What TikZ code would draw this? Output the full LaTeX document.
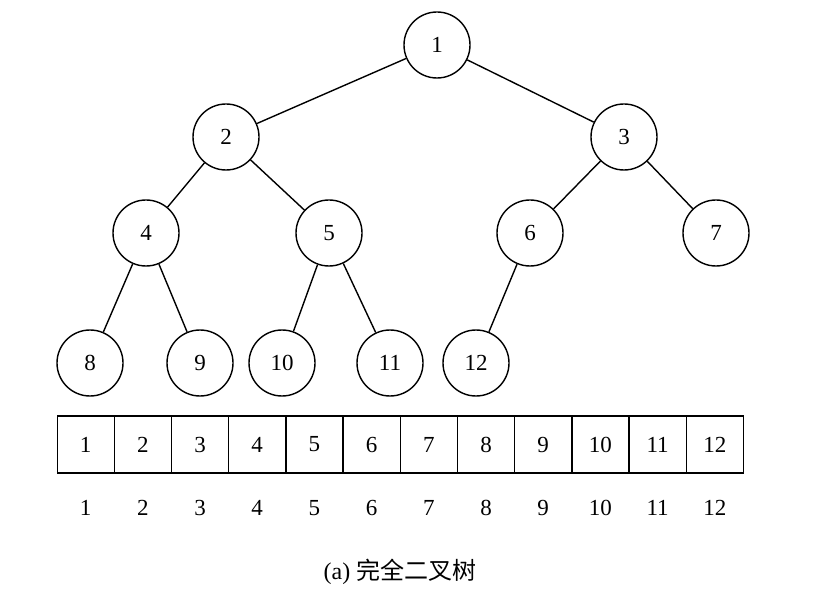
\documentclass[tikz,border=0pt]{standalone}
\usepackage{fontspec}
\setmainfont{Liberation Serif}
\newfontfamily\cjk{Noto Sans CJK SC}
\begin{document}
\begin{tikzpicture}[x=1pt,y=-1pt,
  tn/.style={circle,draw,line width=1.4pt,minimum size=66pt,inner sep=0pt,font=\fontsize{23}{24}\selectfont},
  cell/.style={draw,line width=1.2pt,minimum width=57pt,minimum height=57pt,inner sep=0pt,font=\fontsize{23}{24}\selectfont},
  idx/.style={font=\fontsize{23}{24}\selectfont},
  edge/.style={line width=1.4pt}]
\useasboundingbox (0,0) rectangle (827,601);
\node[tn] (n1) at (437,45) {1};
\node[tn] (n2) at (226,137) {2};
\node[tn] (n3) at (624,137) {3};
\node[tn] (n4) at (146,233) {4};
\node[tn] (n5) at (329,233) {5};
\node[tn] (n6) at (530,233) {6};
\node[tn] (n7) at (716,233) {7};
\node[tn] (n8) at (90,363) {8};
\node[tn] (n9) at (200,363) {9};
\node[tn] (n10) at (282,363) {10};
\node[tn] (n11) at (390,363) {11};
\node[tn] (n12) at (476,363) {12};
\foreach \a/\b in {1/2,1/3,2/4,2/5,3/6,3/7,4/8,4/9,5/10,5/11,6/12}
  \draw[edge] (n\a) -- (n\b);
\foreach \i in {1,...,12}{
  \node[cell] (c\i) at ({57+57.2*(\i-0.5)},444.5) {\i};
  \node[idx] (l\i) at ({57+57.2*(\i-0.5)},508) {\i};
}
\node[font=\fontsize{24}{26}\selectfont] (cap) at (400,572) {(a) {\cjk 完全二叉树}};
\end{tikzpicture}
\end{document}
